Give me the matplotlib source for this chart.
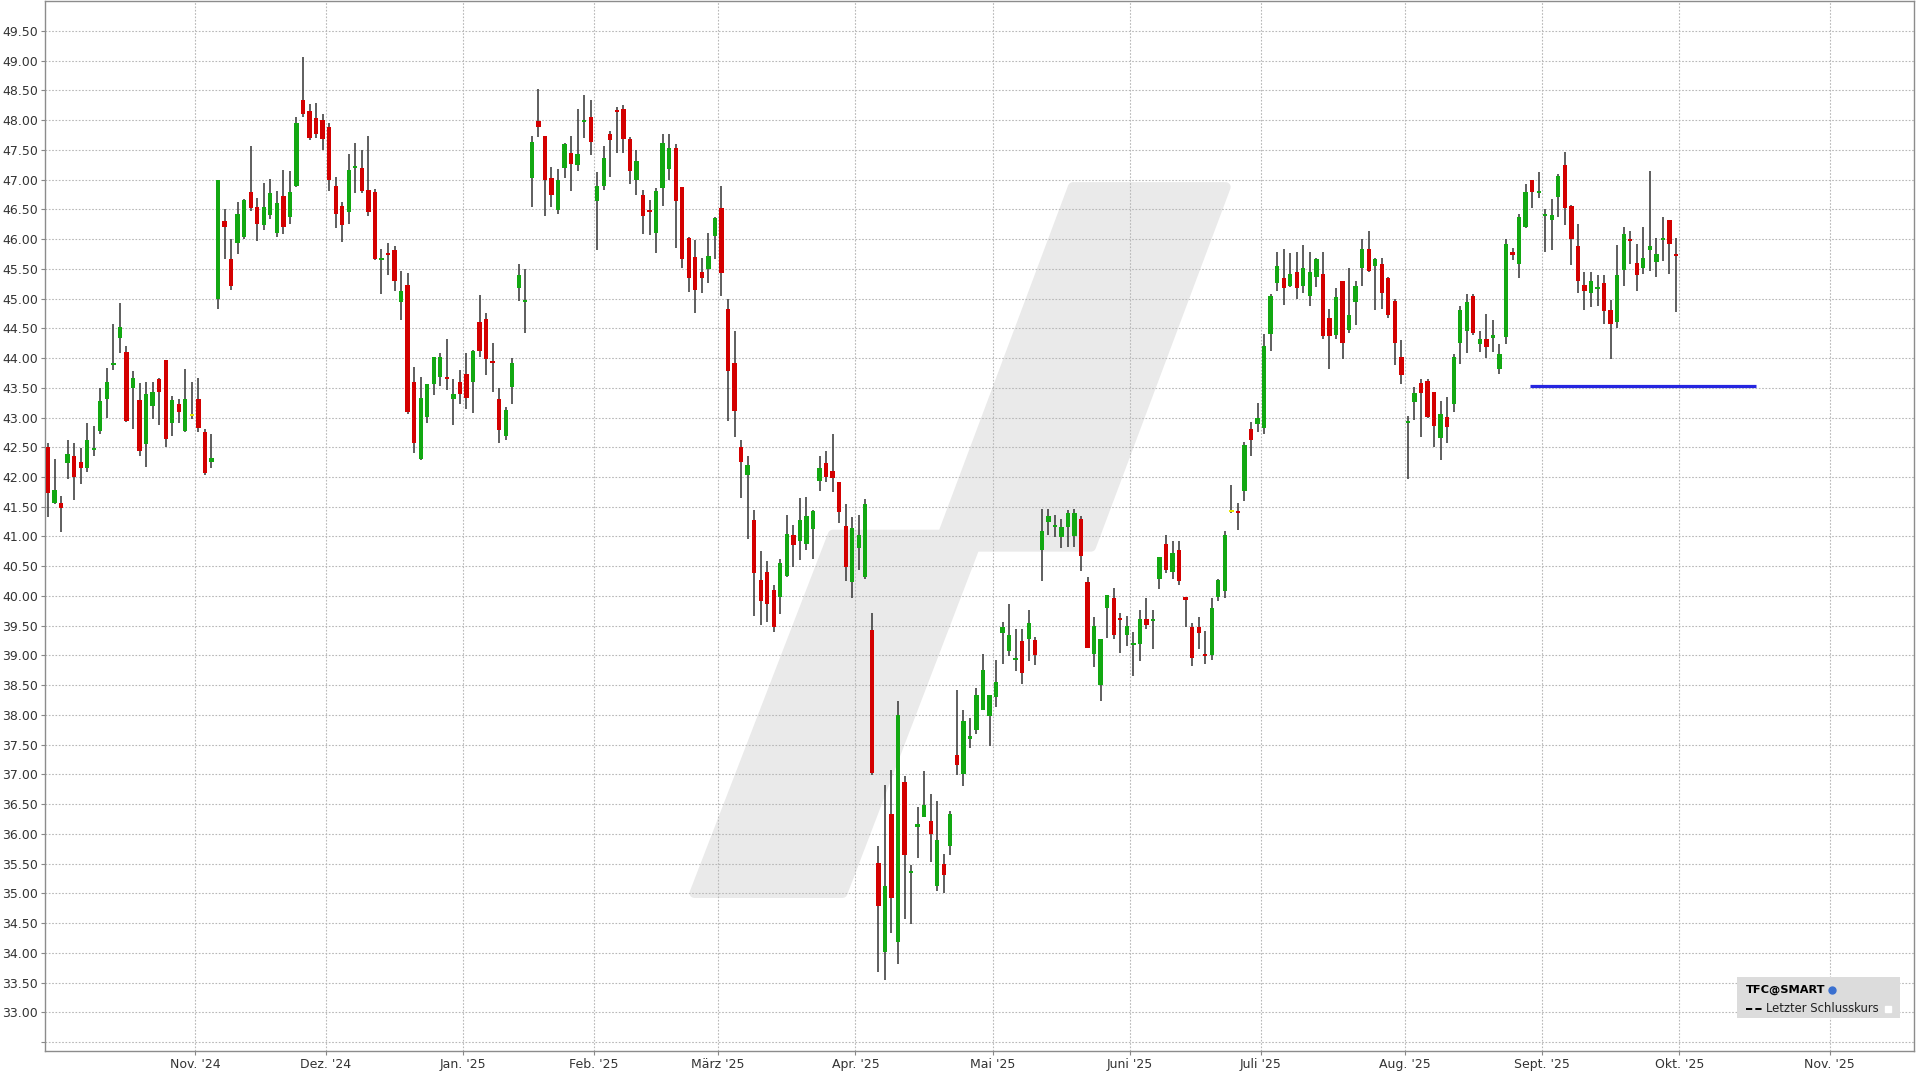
import numpy as np
import pandas as pd
import matplotlib
matplotlib.use('Agg')
import matplotlib.pyplot as plt
from matplotlib.patches import Polygon, Rectangle

# TFC daily OHLC, 1 Oct 2024 - 30 Sep 2025
opens = [42.50, 41.56, 41.56, 42.24, 42.35, 42.25, 42.15, 42.47, 42.78, 43.32,
         43.90, 44.33, 44.10, 43.50, 43.30, 42.55, 43.19, 43.64, 43.96, 42.91,
         43.22, 42.77, 43.04, 43.32, 42.76, 42.25, 45.00, 46.31, 45.66, 45.93,
         46.04, 46.80, 46.54, 46.24, 46.41, 46.10, 46.72, 46.38, 46.90, 48.34,
         48.15, 48.03, 48.00, 47.89, 46.90, 46.56, 46.46, 47.22, 47.20, 46.83,
         46.80, 45.67, 45.78, 45.82, 44.95, 45.23, 43.60, 42.30, 43.01, 43.56,
         43.68, 43.70, 43.32, 43.59, 43.74, 43.59, 44.60, 44.65, 43.97, 43.32,
         42.69, 43.52, 45.17, 44.96, 47.03, 47.98, 47.73, 47.03, 46.49, 47.19,
         47.45, 47.24, 47.99, 48.06, 46.64, 46.90, 47.77, 48.18, 48.19, 47.68,
         46.99, 46.75, 46.49, 46.11, 46.86, 47.18, 47.53, 46.87, 46.02, 45.70,
         45.45, 45.49, 46.05, 46.52, 44.82, 43.91, 42.51, 42.04, 41.28, 40.27,
         40.40, 40.10, 39.99, 40.33, 41.02, 40.92, 40.87, 41.13, 41.93, 42.24,
         42.10, 41.91, 41.17, 40.24, 40.80, 40.32, 39.42, 35.51, 34.01, 36.33,
         34.19, 36.88, 35.36, 36.14, 36.29, 36.21, 35.12, 35.49, 35.79, 37.33,
         37.01, 37.62, 37.74, 38.08, 37.99, 38.30, 39.38, 39.07, 38.94, 39.24,
         39.27, 39.26, 40.77, 41.24, 41.18, 40.99, 41.16, 41.00, 41.29, 40.23,
         39.03, 38.51, 39.80, 39.96, 39.65, 39.34, 39.20, 39.20, 39.62, 39.60,
         40.28, 40.88, 40.41, 40.77, 39.98, 39.47, 39.48, 39.03, 39.00, 39.98,
         40.08, 41.43, 41.43, 41.77, 42.80, 42.89, 42.83, 44.41, 45.27, 45.35,
         45.22, 45.44, 45.22, 45.05, 45.37, 45.42, 44.68, 44.39, 45.29, 44.48,
         44.95, 45.51, 45.84, 45.55, 45.59, 45.34, 44.96, 44.01, 42.93, 43.26,
         43.58, 43.62, 43.43, 42.66, 43.01, 43.22, 44.26, 44.45, 45.05, 44.23,
         44.32, 44.34, 43.82, 44.36, 45.79, 45.59, 46.20, 47.00, 46.79, 46.40,
         46.32, 46.70, 47.24, 46.55, 45.89, 45.23, 45.09, 45.18, 45.26, 44.81,
         44.60, 45.48, 46.02, 45.60, 45.51, 45.82, 45.61, 46.00, 46.33, 45.76]
highs = [42.57, 42.31, 41.68, 42.62, 42.57, 42.49, 42.91, 42.85, 43.49, 43.84,
         44.58, 44.93, 44.20, 43.79, 43.58, 43.60, 43.60, 43.66, 43.97, 43.37,
         43.31, 43.81, 43.60, 43.66, 42.80, 42.72, 47.00, 46.50, 46.01, 46.62,
         46.67, 47.56, 46.69, 46.94, 47.01, 46.81, 47.16, 47.15, 48.06, 49.07,
         48.28, 48.29, 48.11, 47.96, 47.05, 46.63, 47.43, 47.62, 47.50, 47.74,
         46.84, 45.84, 45.93, 45.88, 45.46, 45.43, 43.85, 43.68, 43.57, 44.01,
         44.08, 44.32, 43.64, 43.80, 44.09, 44.14, 45.06, 44.75, 44.26, 43.49,
         43.18, 44.00, 45.59, 45.50, 47.74, 48.53, 47.73, 47.21, 47.18, 47.61,
         47.73, 48.19, 48.43, 48.34, 47.13, 47.56, 47.81, 48.23, 48.26, 47.72,
         47.50, 46.83, 46.65, 46.86, 47.77, 47.76, 47.60, 46.87, 46.04, 45.99,
         45.69, 46.10, 46.38, 46.90, 45.00, 44.45, 42.63, 42.35, 41.45, 40.76,
         40.59, 40.18, 40.63, 41.36, 41.19, 41.64, 41.66, 41.44, 42.35, 42.43,
         42.73, 41.92, 41.54, 41.32, 41.36, 41.63, 39.71, 35.80, 36.83, 37.08,
         38.24, 36.98, 35.48, 36.46, 37.06, 36.67, 36.56, 35.66, 36.39, 38.42,
         38.09, 37.95, 38.45, 39.02, 38.33, 38.92, 39.57, 39.86, 39.45, 39.45,
         39.77, 39.31, 41.46, 41.47, 41.36, 41.30, 41.44, 41.47, 41.34, 40.32,
         39.64, 39.27, 40.01, 40.14, 39.72, 39.66, 39.39, 39.76, 39.96, 39.76,
         40.65, 41.03, 40.93, 40.93, 39.98, 39.55, 39.64, 39.41, 39.97, 40.28,
         41.10, 41.86, 41.56, 42.59, 42.93, 43.25, 44.40, 45.08, 45.79, 45.84,
         45.77, 45.79, 45.90, 45.79, 45.69, 45.79, 44.82, 45.17, 45.29, 45.52,
         45.30, 46.01, 46.13, 45.69, 45.69, 45.36, 44.99, 44.31, 43.03, 43.52,
         43.64, 43.64, 43.43, 43.28, 43.34, 44.07, 44.87, 45.08, 45.07, 44.45,
         44.74, 44.64, 44.24, 46.00, 45.85, 46.43, 46.93, 47.00, 47.13, 46.51,
         46.67, 47.10, 47.46, 46.58, 46.25, 45.44, 45.44, 45.39, 45.39, 44.97,
         45.90, 46.20, 46.13, 45.91, 46.20, 47.15, 46.02, 46.37, 46.33, 46.02]
lows = [41.33, 41.55, 41.07, 41.97, 41.62, 41.89, 42.08, 42.35, 42.73, 43.00,
        43.80, 44.09, 42.92, 42.80, 42.35, 42.17, 42.98, 42.87, 42.50, 42.69,
        42.91, 42.76, 42.98, 42.75, 42.04, 42.15, 44.82, 45.66, 45.15, 45.75,
        46.00, 46.48, 45.97, 46.15, 46.34, 46.03, 46.09, 46.25, 46.88, 48.05,
        47.67, 47.70, 47.50, 46.81, 46.19, 45.95, 46.26, 46.77, 46.77, 46.39,
        45.65, 45.08, 45.40, 45.13, 44.64, 43.06, 42.40, 42.28, 42.90, 43.38,
        43.53, 43.46, 42.88, 43.23, 43.14, 43.07, 44.01, 43.71, 43.43, 42.58,
        42.62, 43.22, 44.96, 44.42, 46.54, 47.72, 46.39, 46.54, 46.43, 47.03,
        46.81, 47.14, 47.70, 47.42, 45.82, 46.83, 47.05, 47.45, 47.45, 46.92,
        46.75, 46.09, 46.07, 45.77, 46.55, 46.99, 45.85, 45.51, 45.11, 44.76,
        45.09, 45.27, 45.67, 45.04, 42.95, 42.68, 41.65, 40.95, 39.67, 39.51,
        39.56, 39.39, 39.70, 40.32, 40.49, 40.61, 40.77, 40.63, 41.77, 41.91,
        41.74, 41.23, 40.25, 39.96, 40.43, 40.28, 36.99, 33.68, 33.55, 34.33,
        33.81, 34.57, 34.49, 35.60, 36.29, 35.52, 35.04, 35.00, 35.65, 36.99,
        36.80, 37.45, 37.68, 38.08, 37.48, 38.14, 38.85, 38.99, 38.74, 38.52,
        38.90, 38.84, 40.26, 41.02, 40.99, 40.81, 40.82, 40.82, 40.42, 39.13,
        38.81, 38.24, 39.29, 39.27, 39.04, 39.16, 38.65, 38.90, 39.45, 39.11,
        40.11, 40.38, 40.28, 40.18, 39.48, 38.82, 39.11, 38.86, 38.93, 39.91,
        39.97, 41.39, 41.11, 41.60, 42.35, 42.75, 42.73, 44.12, 45.13, 44.90,
        45.19, 44.99, 45.10, 44.87, 45.19, 44.32, 43.81, 44.32, 43.99, 44.42,
        44.55, 45.22, 45.44, 44.81, 44.83, 44.67, 43.88, 43.57, 41.97, 42.96,
        42.68, 42.99, 42.51, 42.29, 42.57, 43.10, 43.90, 44.08, 44.39, 44.10,
        44.00, 44.10, 43.73, 44.23, 45.65, 45.34, 46.18, 46.52, 46.69, 45.79,
        45.82, 46.38, 46.23, 45.57, 45.09, 44.81, 44.86, 44.88, 44.57, 43.98,
        44.50, 45.22, 45.58, 45.13, 45.42, 45.47, 45.37, 45.63, 45.42, 44.77]
closes = [41.73, 41.78, 41.48, 42.39, 42.00, 42.15, 42.63, 42.49, 43.27, 43.60,
          43.92, 44.53, 42.95, 43.67, 42.44, 43.40, 43.43, 43.43, 42.64, 43.29,
          43.10, 43.31, 43.04, 42.83, 42.07, 42.32, 47.00, 46.21, 45.22, 46.43,
          46.66, 46.52, 46.26, 46.54, 46.77, 46.61, 46.20, 46.80, 47.95, 48.10,
          47.70, 47.76, 47.68, 46.99, 46.42, 46.23, 47.16, 47.25, 46.81, 46.46,
          45.66, 45.69, 45.75, 45.30, 45.13, 43.09, 42.58, 43.33, 43.56, 44.01,
          44.01, 43.67, 43.39, 43.39, 43.33, 44.12, 44.12, 43.98, 43.94, 42.79,
          43.12, 43.91, 45.39, 44.99, 47.63, 47.88, 47.00, 46.75, 47.00, 47.60,
          47.27, 47.43, 48.01, 47.63, 46.89, 47.36, 47.67, 48.16, 47.69, 47.15,
          47.32, 46.39, 46.47, 46.81, 47.61, 47.53, 46.64, 45.66, 45.35, 45.15,
          45.35, 45.71, 46.35, 45.43, 43.78, 43.11, 42.25, 42.20, 40.38, 39.92,
          39.86, 39.48, 40.55, 41.05, 40.85, 41.27, 41.34, 41.43, 42.16, 42.00,
          41.98, 41.41, 40.48, 41.15, 41.02, 41.55, 37.02, 34.79, 35.13, 34.92,
          38.00, 35.65, 35.38, 36.17, 36.49, 36.00, 35.90, 35.31, 36.33, 37.15,
          37.90, 37.65, 38.33, 38.75, 38.33, 38.56, 39.47, 39.34, 38.96, 38.71,
          39.55, 39.00, 41.10, 41.34, 41.20, 41.16, 41.40, 41.40, 40.67, 39.13,
          39.49, 39.27, 40.01, 39.34, 39.62, 39.49, 39.21, 39.61, 39.51, 39.62,
          40.65, 40.43, 40.73, 40.26, 39.93, 38.96, 39.38, 39.00, 39.79, 40.27,
          41.02, 41.43, 41.41, 42.54, 42.62, 43.00, 44.20, 45.04, 45.55, 45.18,
          45.41, 45.18, 45.51, 45.44, 45.67, 44.37, 44.37, 45.02, 44.26, 44.73,
          45.21, 45.83, 45.47, 45.66, 45.10, 44.73, 44.26, 43.71, 42.95, 43.41,
          43.42, 43.01, 42.85, 43.06, 42.84, 44.02, 44.81, 44.95, 44.42, 44.32,
          44.19, 44.39, 44.07, 45.91, 45.74, 46.37, 46.79, 46.80, 46.81, 46.41,
          46.41, 47.06, 46.52, 46.01, 45.30, 45.13, 45.29, 45.20, 44.79, 44.57,
          45.39, 46.08, 45.99, 45.40, 45.69, 45.89, 45.75, 46.02, 45.92, 45.73]

# NYSE holidays in the displayed range
holidays = ['2024-11-28', '2024-12-25', '2025-01-01', '2025-01-09', '2025-01-20',
            '2025-02-17', '2025-04-18', '2025-05-26', '2025-06-19', '2025-07-04',
            '2025-09-01', '2025-11-27', '2025-12-25']
month_labels = ["Nov. '24", "Dez. '24", "Jan. '25", "Feb. '25", "März '25", "Apr. '25",
                "Mai '25", "Juni '25", "Juli '25", "Aug. '25", "Sept. '25", "Okt. '25",
                "Nov. '25"]
hline_price = 43.53
hline_start, hline_end = '2025-08-28', '2025-10-16'

days = pd.bdate_range('2024-10-01', '2025-12-31')
days = days[~days.isin(pd.to_datetime(holidays))]
pos = pd.Series(np.arange(len(days)), index=days)

o = np.array(opens); h = np.array(highs); l = np.array(lows); c = np.array(closes)
x = np.arange(len(o))

fig = plt.figure(figsize=(19.2, 10.8), dpi=100)
ax = fig.add_axes([45/1920, 1 - 1051/1080, (1914-45)/1920, 1050/1080])
ax.set_axisbelow(True)

# watermark logo (axes fraction, measured on the screenshot)
def af(pts):
    return [((px - 36.7) / 1526.3, 1 - py / 858.0) for px, py in pts]
for shape in ([(876, 152), (1001, 152), (891, 446), (766, 446)],
              [(680, 436), (800, 436), (688, 729), (567, 729)]):
    ax.add_patch(Polygon(af(shape), closed=True, transform=ax.transAxes,
                         facecolor='#eaeaea', edgecolor='#eaeaea', lw=7,
                         joinstyle='round', zorder=0.1))

# candles
col = np.where(c > o, '#12a812', np.where(c < o, '#d40000', '#e6e600'))
ax.vlines(x, l, h, color='#333333', lw=1.1, zorder=2)
body_lo = np.minimum(o, c)
body_h = np.maximum(np.abs(c - o), 0.035)
ax.bar(x, body_h, bottom=body_lo - np.where(np.abs(c - o) < 0.035, 0.0175, 0), width=0.66,
       color=col, edgecolor='none', zorder=3)

# horizontal blue line
ax.hlines(hline_price, pos[hline_start] - 0.3, pos[hline_end] + 0.3,
          color='#2626e0', lw=2.3, zorder=4)

# axes styling
ax.set_xlim(-0.46, 285.4)
ax.set_ylim(32.349, 50.004)
yt = np.arange(32.5, 49.51, 0.5)
ax.set_yticks(yt)
ax.set_yticklabels(['' if v < 32.9 else f'{v:.2f}' for v in yt])
month_start = days.to_series().groupby(days.to_period('M')).first()
xt = [pos[d] - 0.5 for d in month_start.iloc[1:14]]
ax.set_xticks(xt)
ax.set_xticklabels(month_labels)
ax.tick_params(axis='both', labelsize=9, colors='#333333', length=3, width=0.8,
               color='#888888', pad=2)
ax.grid(True, color='#b8b8b8', lw=0.8, linestyle=(0, (1.5, 1.5)))
for s in ax.spines.values():
    s.set_color('#8c8c8c')
    s.set_linewidth(1)

# legend box
ax.add_patch(Rectangle((1737/1920, 1 - 1018/1080), 163/1920, 41/1080,
                       transform=fig.transFigure, facecolor='#dcdcdc',
                       edgecolor='none', zorder=10, clip_on=False))
fig.text(1746/1920, 1 - 990/1080, 'TFC@SMART', fontsize=8.2, weight='bold',
         va='center', ha='left', zorder=11)
ax.plot([1832/1920], [1 - 990/1080], 'o', ms=5, color='#3a70d0',
        transform=fig.transFigure, clip_on=False, zorder=11)
ax.plot([1746/1920, 1762/1920], [1 - 1009/1080] * 2, color='black', lw=1.4,
        ls=(0, (3.2, 1.6)), transform=fig.transFigure, clip_on=False, zorder=11)
fig.text(1766/1920, 1 - 1009/1080, 'Letzter Schlusskurs', fontsize=8.4,
         va='center', ha='left', color='#222222', zorder=11)
ax.plot([1888/1920], [1 - 1009/1080], 's', ms=5, color='white',
        transform=fig.transFigure, clip_on=False, zorder=11)

fig.savefig('out.png', dpi=100, facecolor='white')
